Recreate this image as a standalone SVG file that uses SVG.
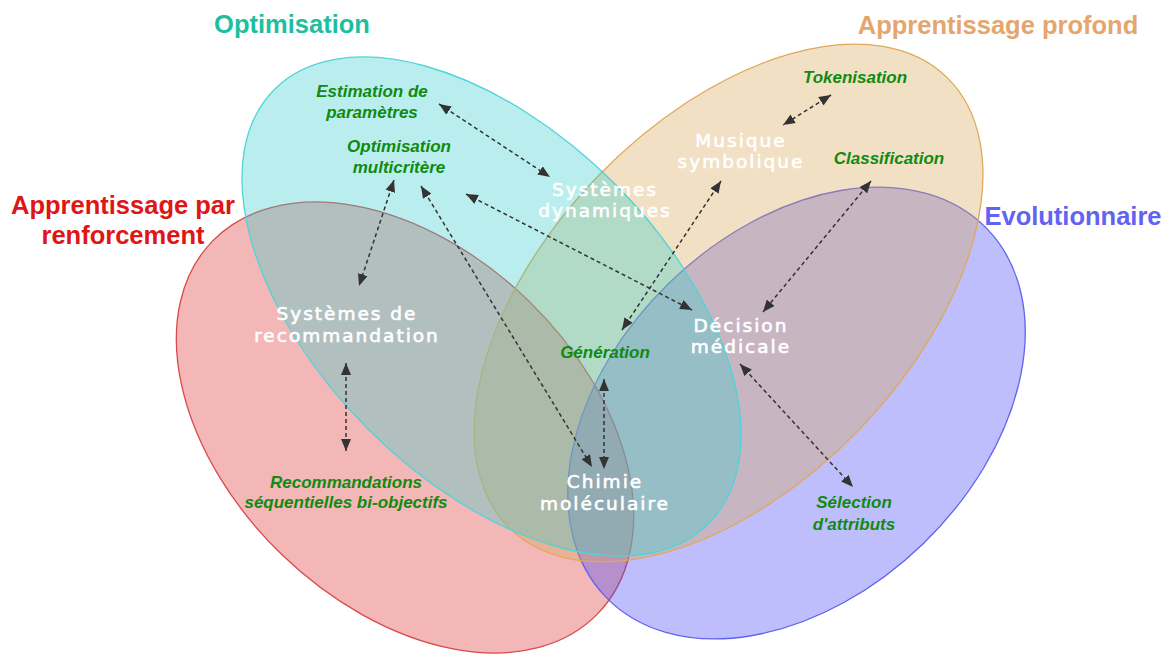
<svg xmlns="http://www.w3.org/2000/svg" width="1168" height="654" viewBox="0 0 1168 654">
  <style>
    .set { stroke-width: 1.3; fill-opacity: 0.35; }
    .title { font-family: "Liberation Sans", Arial, sans-serif; font-weight: bold; font-size: 25.5px; text-anchor: middle; }
    .topic { font-family: "Liberation Sans", Arial, sans-serif; font-weight: bold; font-style: italic; font-size: 17px; fill: #108a10; text-anchor: middle; }
    .field { font-family: "DejaVu Sans", "Noto Sans", sans-serif; font-size: 18.5px; fill: #ffffff; stroke: #ffffff; stroke-width: 0.6; text-anchor: middle; letter-spacing: 2px; }
    .link { fill: none; stroke: #333333; stroke-width: 1.5; stroke-dasharray: 4 3; marker-start: url(#head); marker-end: url(#head); }
  </style>
  <defs>
    <marker id="head" viewBox="0 0 12 10" refX="12" refY="5" markerWidth="12" markerHeight="10" markerUnits="userSpaceOnUse" orient="auto-start-reverse">
      <path d="M0,0 L12,5 L0,10 z" fill="#333333"/>
    </marker>
  </defs>

  <rect width="1168" height="654" fill="#ffffff"/>

  <!-- sets, bottom to top -->
  <g id="set-renforcement">
    <ellipse class="set" cx="405" cy="427.5" rx="268" ry="177" transform="rotate(44 405 427.5)" fill="#dd3131" stroke="#d94a4a"/>
    <text class="title" fill="#e01515"><tspan x="123" y="214">Apprentissage par</tspan><tspan x="123" y="244">renforcement</tspan></text>
  </g>
  <g id="set-evolutionnaire">
    <ellipse class="set" cx="796.5" cy="413" rx="265" ry="182" transform="rotate(-44 796.5 413)" fill="#4545f6" stroke="#6262ee"/>
    <text class="title" x="1073" y="225" fill="#6363f2">Evolutionnaire</text>
  </g>
  <g id="set-profond">
    <ellipse class="set" cx="728.5" cy="303" rx="314" ry="182" transform="rotate(-46 728.5 303)" fill="#daa656" stroke="#e0a85a"/>
    <text class="title" x="998" y="34" fill="#e4a66e">Apprentissage profond</text>
  </g>
  <g id="set-optimisation">
    <ellipse class="set" cx="491.5" cy="306.5" rx="307" ry="174" transform="rotate(45 491.5 306.5)" fill="#3acecf" stroke="#4fd4d8"/>
    <text class="title" x="292" y="33" fill="#1dbf9f">Optimisation</text>
  </g>

  <!-- connectors -->
  <g id="connectors">
    <line class="link" x1="439" y1="104" x2="550" y2="177"/>
    <line class="link" x1="394" y1="180" x2="359" y2="286"/>
    <line class="link" x1="421" y1="186" x2="592" y2="467"/>
    <line class="link" x1="466" y1="194" x2="692" y2="310"/>
    <line class="link" x1="721" y1="181" x2="622" y2="330"/>
    <line class="link" x1="831" y1="95" x2="783" y2="125"/>
    <line class="link" x1="871" y1="181" x2="763" y2="312"/>
    <line class="link" x1="740" y1="364" x2="853" y2="487"/>
    <line class="link" x1="604" y1="379" x2="604" y2="469"/>
    <line class="link" x1="346" y1="363" x2="346" y2="451"/>
  </g>

  <!-- application fields -->
  <g id="systemes-dynamiques">
    <text class="field"><tspan x="605" y="196">Systèmes</tspan><tspan x="605" y="217">dynamiques</tspan></text>
  </g>
  <g id="musique-symbolique">
    <text class="field"><tspan x="741" y="147">Musique</tspan><tspan x="741" y="168">symbolique</tspan></text>
  </g>
  <g id="systemes-recommandation">
    <text class="field"><tspan x="347" y="320">Systèmes de</tspan><tspan x="347" y="342">recommandation</tspan></text>
  </g>
  <g id="decision-medicale">
    <text class="field"><tspan x="741" y="332">Décision</tspan><tspan x="741" y="353">médicale</tspan></text>
  </g>
  <g id="chimie-moleculaire">
    <text class="field"><tspan x="605" y="488">Chimie</tspan><tspan x="605" y="510">moléculaire</tspan></text>
  </g>

  <!-- methods / tasks -->
  <g id="estimation-parametres">
    <text class="topic"><tspan x="372" y="97">Estimation de</tspan><tspan x="372" y="118">paramètres</tspan></text>
  </g>
  <g id="optimisation-multicritere">
    <text class="topic"><tspan x="399" y="152">Optimisation</tspan><tspan x="399" y="173">multicritère</tspan></text>
  </g>
  <g id="tokenisation">
    <text class="topic" x="855" y="83">Tokenisation</text>
  </g>
  <g id="classification">
    <text class="topic" x="889" y="164">Classification</text>
  </g>
  <g id="generation">
    <text class="topic" x="605" y="358">Génération</text>
  </g>
  <g id="recommandations-sequentielles">
    <text class="topic"><tspan x="346" y="488">Recommandations</tspan><tspan x="346" y="508">séquentielles bi-objectifs</tspan></text>
  </g>
  <g id="selection-attributs">
    <text class="topic"><tspan x="854" y="508">Sélection</tspan><tspan x="854" y="530">d'attributs</tspan></text>
  </g>
</svg>
